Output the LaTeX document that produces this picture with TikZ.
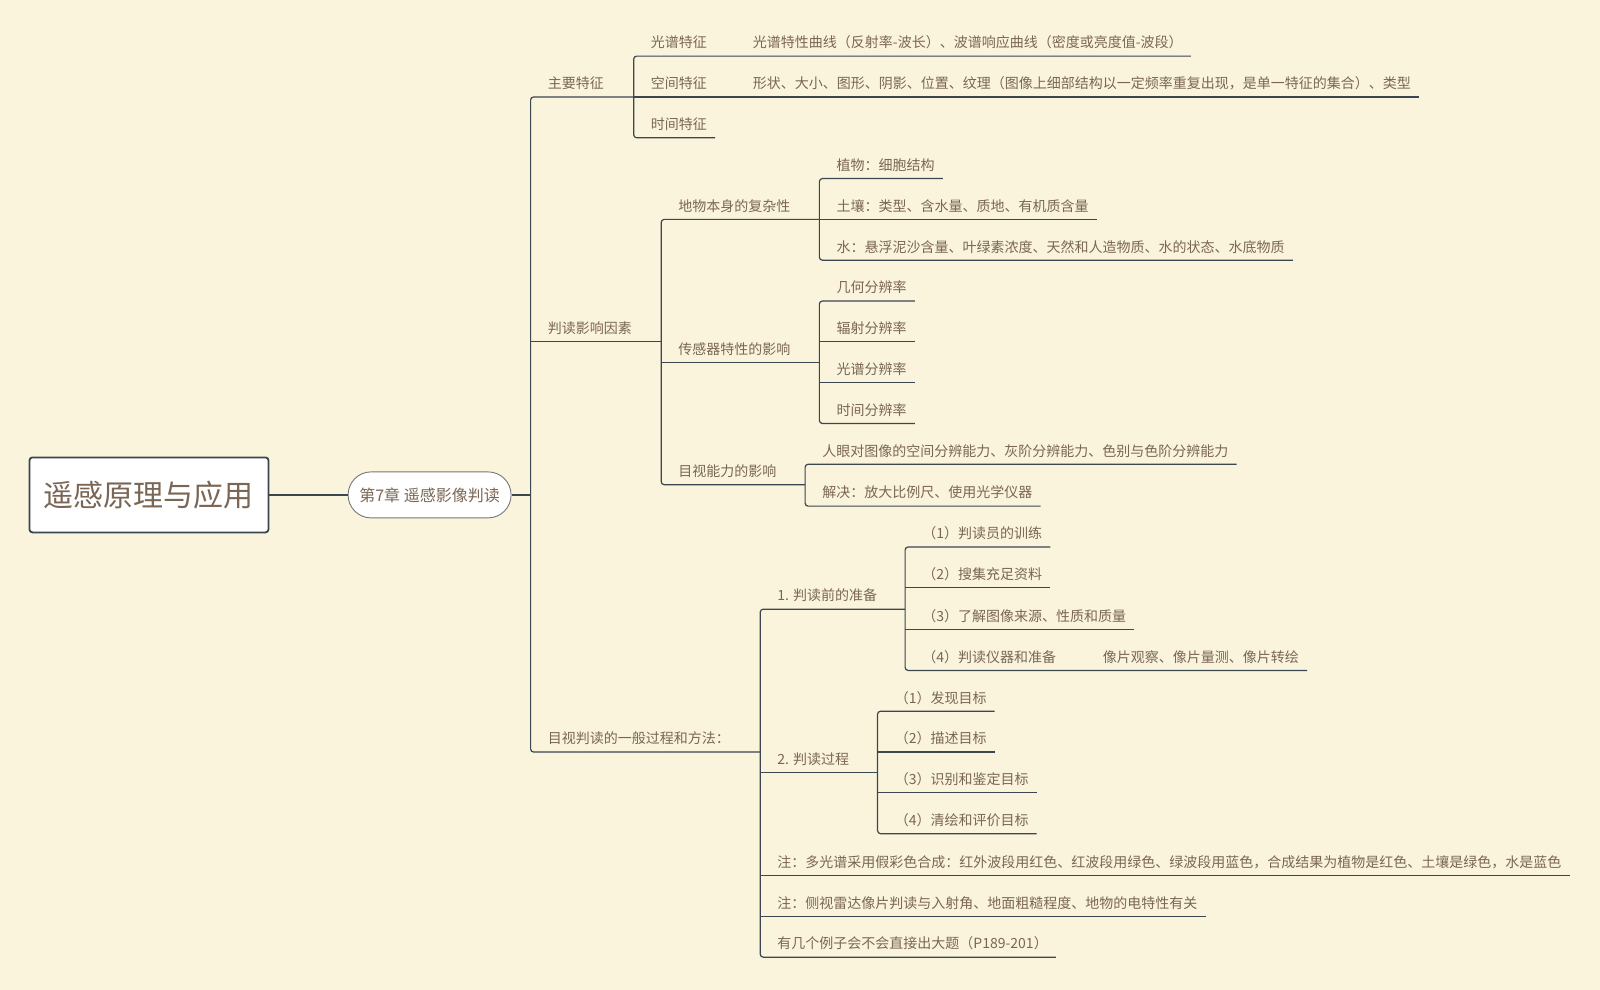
\documentclass[tikz,border=0pt]{standalone}
\usepackage{fontspec}
\setmainfont{Noto Sans CJK SC}
\usepackage{xcolor}
\usepackage{tikz}
\usetikzlibrary{positioning}
\definecolor{Mbg}{RGB}{251,244,220}
\definecolor{Mline}{RGB}{58,70,80}
\definecolor{Mtext}{RGB}{122,102,84}
\definecolor{Mgray}{RGB}{118,118,118}
\tikzset{
  link/.style={draw=Mline, line width=1.2pt, rounded corners=3pt},
  rootbox/.style={draw=Mline, line width=1.8pt, fill=white, rounded corners=3pt, text=Mtext, font=\fontsize{30}{36}\selectfont, minimum width=239pt, minimum height=75pt, inner sep=0pt},
  chapbox/.style={draw=Mgray, line width=0.9pt, fill=white, rounded corners=23pt, text=Mtext, font=\fontsize{16}{19}\selectfont, minimum width=163pt, minimum height=46pt, inner sep=0pt},
  topic/.style={anchor=south west, inner xsep=8pt, inner ysep=5pt, text height=10pt, text depth=3pt, text=Mtext, font=\fontsize{14}{16}\selectfont, execute at begin node=\hspace*{9pt}}
}

\begin{document}
\begin{tikzpicture}[x=1.0204pt, y=-1.0204pt]
  \fill[Mbg] (0,0) rectangle (1568,970);
  \useasboundingbox (0,0) rectangle (1568,970);

  \node[rootbox] (root) at (146,485) {遥感原理与应用};
  \node[chapbox] (chap) at (421,485) {第7章 遥感影像判读};

  \node[topic] (n1) at (520,95) {主要特征};
  \node[topic] (n11) at (621,55) {光谱特征};
  \node[topic] (n111) at (721,55) {光谱特性曲线（反射率-波长）、波谱响应曲线（密度或亮度值-波段）};
  \node[topic] (n12) at (621,95) {空间特征};
  \node[topic] (n121) at (721,95) {形状、大小、图形、阴影、位置、纹理（图像上细部结构以一定频率重复出现，是单一特征的集合）、类型};
  \node[topic] (n13) at (621,135) {时间特征};

  \node[topic] (n2) at (520,335) {判读影响因素};
  \node[topic] (n21) at (648,215) {地物本身的复杂性};
  \node[topic] (n211) at (803,175) {植物：细胞结构};
  \node[topic] (n212) at (803,215) {土壤：类型、含水量、质地、有机质含量};
  \node[topic] (n213) at (803,255) {水：悬浮泥沙含量、叶绿素浓度、天然和人造物质、水的状态、水底物质};
  \node[topic] (n22) at (648,355) {传感器特性的影响};
  \node[topic] (n221) at (803,295) {几何分辨率};
  \node[topic] (n222) at (803,335) {辐射分辨率};
  \node[topic] (n223) at (803,375) {光谱分辨率};
  \node[topic] (n224) at (803,415) {时间分辨率};
  \node[topic] (n23) at (648,475) {目视能力的影响};
  \node[topic] (n231) at (789,455) {人眼对图像的空间分辨能力、灰阶分辨能力、色别与色阶分辨能力};
  \node[topic] (n232) at (789,496) {解决：放大比例尺、使用光学仪器};

  \node[topic] (n3) at (520,737) {目视判读的一般过程和方法：};
  \node[topic] (n31) at (745,597) {1. 判读前的准备};
  \node[topic] (n311) at (887,536) {（1）判读员的训练};
  \node[topic] (n312) at (887,576) {（2）搜集充足资料};
  \node[topic] (n313) at (887,617) {（3）了解图像来源、性质和质量};
  \node[topic] (n314) at (887,657) {（4）判读仪器和准备};
  \node[topic] (n3141) at (1064,657) {像片观察、像片量测、像片转绘};
  \node[topic] (n32) at (745,757) {2. 判读过程};
  \node[topic] (n321) at (860,697) {（1）发现目标};
  \node[topic] (n322) at (860,737) {（2）描述目标};
  \node[topic] (n323) at (860,777) {（3）识别和鉴定目标};
  \node[topic] (n324) at (860,817) {（4）清绘和评价目标};
  \node[topic] (n33) at (745,858) {注：多光谱采用假彩色合成：红外波段用红色、红波段用绿色、绿波段用蓝色，合成结果为植物是红色、土壤是绿色，水是蓝色};
  \node[topic] (n34) at (745,898) {注：侧视雷达像片判读与入射角、地面粗糙程度、地物的电特性有关};
  \node[topic] (n35) at (745,938) {有几个例子会不会直接出大题（P189-201）};

  \draw[link] (root) -- (chap);
  \draw[link] (chap.east) -- (chap.east -| n1.south west);
  \draw[link] (n11.south west |- n1.south) -- (n1.south west) -- (n3.south west) -- (n31.south west |- n3.south);
  \draw[link] (n2.south west) -- (n21.south west |- n2.south);

  \draw[link] (n111.south east) -- (n11.south west) -- (n13.south west) -- (n13.south east);
  \draw[link] (n12.south west) -- (n121.south east);

  \draw[link] (n211.south west |- n21.south) -- (n21.south west) -- (n23.south west) -- (n231.south west |- n23.south);
  \draw[link] (n22.south west) -- (n221.south west |- n22.south);
  \draw[link] (n211.south east) -- (n211.south west) -- (n213.south west) -- (n213.south east);
  \draw[link] (n212.south west) -- (n212.south east);
  \draw[link] (n221.south east) -- (n221.south west) -- (n224.south west) -- (n224.south east);
  \draw[link] (n222.south west) -- (n222.south east);
  \draw[link] (n223.south west) -- (n223.south east);
  \draw[link] (n231.south east) -- (n231.south west) -- (n232.south west) -- (n232.south east);

  \draw[link] (n311.south west |- n31.south) -- (n31.south west) -- (n35.south west) -- (n35.south east);
  \draw[link] (n32.south west) -- (n321.south west |- n32.south);
  \draw[link] (n33.south west) -- (n33.south east);
  \draw[link] (n34.south west) -- (n34.south east);
  \draw[link] (n311.south east) -- (n311.south west) -- (n314.south west) -- (n3141.south east);
  \draw[link] (n312.south west) -- (n312.south east);
  \draw[link] (n313.south west) -- (n313.south east);
  \draw[link] (n321.south east) -- (n321.south west) -- (n324.south west) -- (n324.south east);
  \draw[link] (n322.south west) -- (n322.south east);
  \draw[link] (n323.south west) -- (n323.south east);
\end{tikzpicture}
\end{document}
